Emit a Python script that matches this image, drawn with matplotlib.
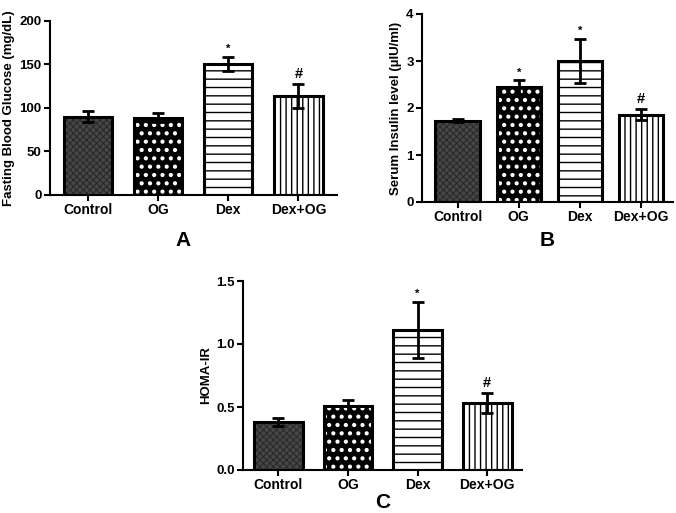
import matplotlib
matplotlib.use("Agg")
import matplotlib.pyplot as plt
import numpy as np

plt.rcParams['font.family'] = ['Liberation Sans', 'DejaVu Sans']
plt.rcParams['font.weight'] = 'bold'
plt.rcParams['hatch.linewidth'] = 1.0

groups = ["Control", "OG", "Dex", "Dex+OG"]

glucose = [90, 89, 151, 114]
glucose_err = [6, 5, 8, 14]
glucose_sig = ["", "", "*", "#"]

insulin = [1.73, 2.44, 3.0, 1.86]
insulin_err = [0.03, 0.15, 0.47, 0.12]
insulin_sig = ["", "*", "*", "#"]

homa = [0.38, 0.507, 1.112, 0.533]
homa_err = [0.03, 0.05, 0.22, 0.08]
homa_sig = ["", "", "*", "#"]

# fill styles per group: (facecolor, hatch, hatchcolor, hatch linewidth)
styles = [("#474747", "xxxxx", "#2a2a2a", 0.8),
          ("#000000", "..", "#ffffff", 1.8),
          ("#ffffff", "--", "#000000", 1.0),
          ("#ffffff", "|||", "#000000", 1.0)]

W, H = 676, 513
fig = plt.figure(figsize=(W / 100, H / 100), dpi=100)


def px_axes(left, right, top, bottom):
    return fig.add_axes([left / W, 1 - bottom / H, (right - left) / W, (bottom - top) / H])


def panel(ax, vals, errs, sigs, ylim, yticks, yticklabels, ylabel, xlim, width, sig_off):
    x = np.arange(len(groups))
    for i in range(len(groups)):
        fc, hatch, hc, hlw = styles[i]
        with plt.rc_context({'hatch.linewidth': hlw}):
            ax.bar(x[i], vals[i], width=width, color=fc, edgecolor=hc, hatch=hatch,
                   linewidth=0, zorder=2)
        ax.bar(x[i], vals[i], width=width, fill=False, edgecolor="black",
               linewidth=2.2, zorder=3)
    ax.errorbar(x, vals, yerr=errs, fmt="none", ecolor="black", elinewidth=2.0,
                capsize=4.5, capthick=2.0, zorder=4)
    for i in range(len(groups)):
        if sigs[i]:
            fs = 8 if sigs[i] == "*" else 10.5
            ax.text(x[i], vals[i] + errs[i] + sig_off, sigs[i], ha="center", va="bottom",
                    fontsize=fs, fontweight="bold")
    ax.set_xlim(*xlim)
    ax.set_ylim(*ylim)
    ax.set_yticks(yticks)
    ax.set_yticklabels(yticklabels, fontsize=9.5, fontweight="bold")
    ax.set_xticks(x)
    ax.set_xticklabels(groups, fontsize=10, fontweight="bold")
    ax.set_ylabel(ylabel, fontsize=9.5, fontweight="bold", labelpad=3)
    for s in ["top", "right"]:
        ax.spines[s].set_visible(False)
    for s in ["left", "bottom"]:
        ax.spines[s].set_linewidth(1.5)
    ax.tick_params(axis="both", width=1.5, length=4, direction="out", pad=2)


axA = px_axes(50, 337, 21, 195)
panel(axA, glucose, glucose_err, glucose_sig, (0, 200), [0, 50, 100, 150, 200],
      ["0", "50", "100", "150", "200"], "Fasting Blood Glucose (mg/dL)",
      (-0.54, 3.55), 0.69, 3)

axB = px_axes(422, 673, 14, 202)
panel(axB, insulin, insulin_err, insulin_sig, (0, 4), [0, 1, 2, 3, 4],
      ["0", "1", "2", "3", "4"], "Serum Insulin level (µIU/ml)",
      (-0.58, 3.52), 0.72, 0.06)

axC = px_axes(243, 522, 281, 470)
panel(axC, homa, homa_err, homa_sig, (0, 1.5), [0.0, 0.5, 1.0, 1.5],
      ["0.0", "0.5", "1.0", "1.5"], "HOMA-IR",
      (-0.51, 3.5), 0.70, 0.025)

fig.text(183 / W, 1 - 240 / H, "A", fontsize=15, fontweight="bold", ha="center", va="center")
fig.text(547 / W, 1 - 240 / H, "B", fontsize=15, fontweight="bold", ha="center", va="center")
fig.text(383 / W, 1 - 502 / H, "C", fontsize=15, fontweight="bold", ha="center", va="center")

fig.savefig("out.png", dpi=100)
